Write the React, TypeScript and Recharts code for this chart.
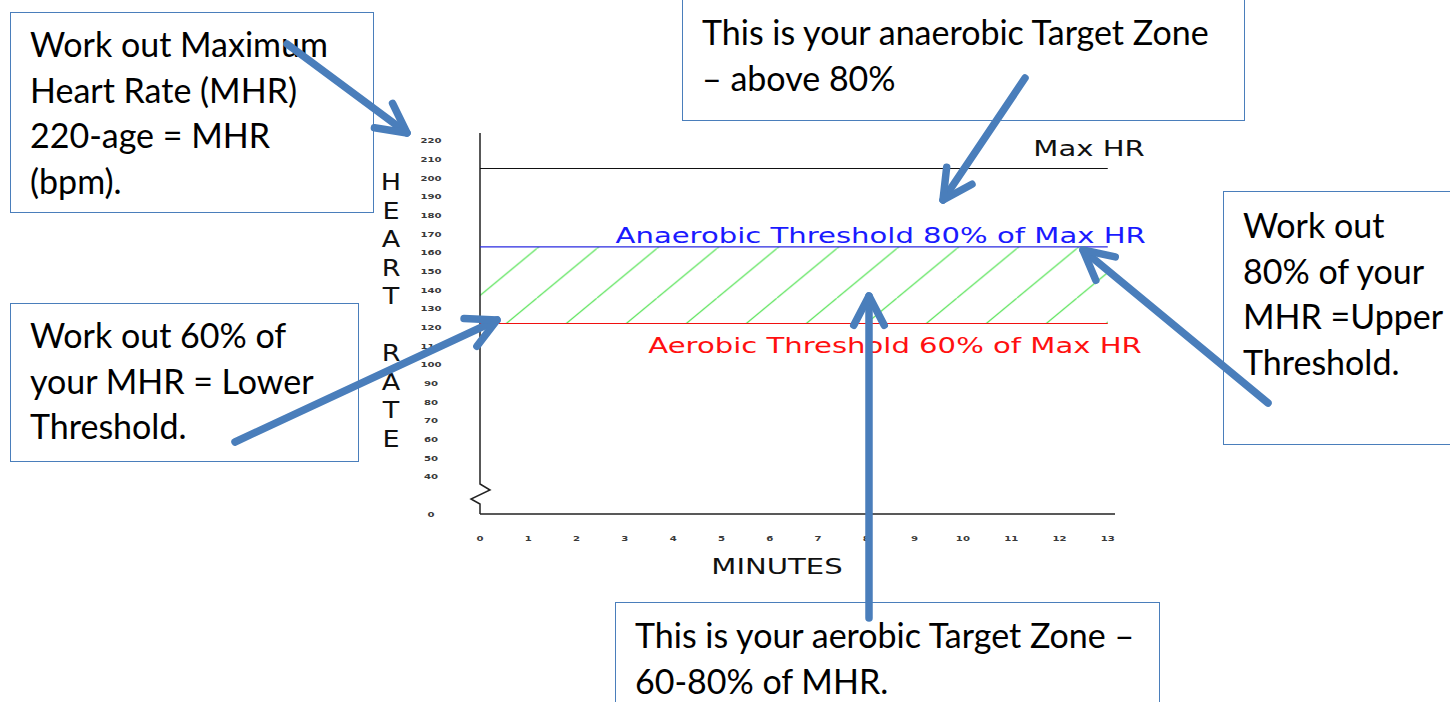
import React from 'react';
import { ComposedChart, Line, XAxis, YAxis, ReferenceArea, ReferenceLine } from 'recharts';

// minutes covered by the threshold lines
const minutes = [0, 13];
const minuteTicks = [0, 1, 2, 3, 4, 5, 6, 7, 8, 9, 10, 11, 12, 13];
// heart-rate axis is broken: the lowest tick (20) is printed as "0"
const hrTicks = [20, 40, 50, 60, 70, 80, 90, 100, 110, 120, 130, 140, 150, 160, 170, 180, 190, 200, 210, 220];
const hrDomain = [20, 224];
const maxHr = 205;
const anaerobicHr = 163;
const aerobicHr = 122;

const lineLabels = {
  max: 'Max HR',
  anaerobic: 'Anaerobic Threshold 80% of Max HR',
  aerobic: 'Aerobic Threshold 60% of Max HR',
};

const notes = [
  { lines: ['Work out Maximum', 'Heart Rate (MHR)', '220-age = MHR', '(bpm).'], left: 10, top: 12, width: 364, height: 201, padTop: 8 },
  { lines: ['This is your anaerobic Target Zone', '\u2013 above 80%'], left: 682, top: -2, width: 563, height: 123, padTop: 10 },
  { lines: ['Work out', '80% of your', 'MHR =Upper', 'Threshold.'], left: 1223, top: 191, width: 240, height: 254, padTop: 10 },
  { lines: ['Work out 60% of', 'your MHR = Lower', 'Threshold.'], left: 10, top: 303, width: 349, height: 159, padTop: 8 },
  { lines: ['This is your aerobic Target Zone \u2013', '60-80% of MHR.'], left: 615, top: 602, width: 545, height: 110, padTop: 9 },
];

const arrows = [
  { from: [287, 44], to: [407, 133] },
  { from: [1025, 78], to: [943, 200] },
  { from: [1268, 403], to: [1083, 250] },
  { from: [235, 442], to: [497, 320] },
  { from: [869, 618], to: [869, 296] },
];

const data = minutes.map((m) => ({ minute: m, max: maxHr, anaerobic: anaerobicHr, aerobic: aerobicHr }));

const font = "'DejaVu Sans', Verdana, sans-serif";
const noteBlue = '#4a7ebb';
const STRETCH = 1.42;

const HrTick = (props: any) => {
  const { x, y, payload } = props;
  const label = payload.value === 20 ? '0' : String(payload.value);
  return (
    <text transform={`translate(${x} ${y + 2.7}) scale(1.3 1)`} textAnchor="middle" fontSize={7.8} fontWeight="bold" fill="#3a3a3a" fontFamily={font}>
      {label}
    </text>
  );
};

const MinuteTick = (props: any) => {
  const { x, y, payload } = props;
  return (
    <text transform={`translate(${x} ${y + 2.7}) scale(1.3 1)`} textAnchor="middle" fontSize={7.8} fontWeight="bold" fill="#3a3a3a" fontFamily={font}>
      {payload.value}
    </text>
  );
};

const endLabel = (text: string, color: string, dx: number, dy: number) => (props: any) => {
  if (props.index !== minutes.length - 1) return null;
  const x = props.viewBox?.x ?? props.x;
  const y = props.viewBox?.y ?? props.y;
  return (
    <text transform={`translate(${x + dx} ${y + dy}) scale(${STRETCH} 1)`} textAnchor="end" fontSize={20.5} fill={color} fontFamily={font}>
      {text}
    </text>
  );
};

const HeartRateLabel = (props: any) => {
  const vb = props.viewBox;
  const letters = 'HEART RATE'.split('');
  return (
    <g>
      {letters.map((ch, i) => (
        <text key={i} transform={`translate(${vb.x - 29} ${vb.y + 57 + i * 28.5}) scale(1.2 1)`} textAnchor="middle" fontSize={22.5} fill="#111" fontFamily={font}>
          {ch}
        </text>
      ))}
    </g>
  );
};

const MinutesLabel = (props: any) => {
  const vb = props.viewBox;
  return (
    <text transform={`translate(${vb.x + 297} ${vb.y + 60}) scale(${STRETCH} 1)`} textAnchor="middle" fontSize={20.5} fill="#111" fontFamily={font}>
      MINUTES
    </text>
  );
};

// y axis line with the "broken axis" zigzag just above the origin
const BrokenAxis = (props: any) => {
  const { x1, y1, y2 } = props;
  const bottom = Math.max(y1, y2);
  const top = Math.min(y1, y2);
  const pts = [
    [x1, top],
    [x1, bottom - 30],
    [x1 + 10, bottom - 24],
    [x1 - 9, bottom - 15],
    [x1, bottom - 10],
    [x1, bottom],
  ];
  return <polyline points={pts.map((p) => p.join(',')).join(' ')} fill="none" stroke="#222" strokeWidth={1.5} />;
};

const Arrow = ({ from, to }: { from: number[]; to: number[] }) => {
  const ang = Math.atan2(from[1] - to[1], from[0] - to[0]);
  const len = 33;
  const spread = 0.48;
  const w1 = [to[0] + len * Math.cos(ang + spread), to[1] + len * Math.sin(ang + spread)];
  const w2 = [to[0] + len * Math.cos(ang - spread), to[1] + len * Math.sin(ang - spread)];
  return (
    <g stroke="#4a7ebb" strokeWidth={7.5} strokeLinecap="round" strokeLinejoin="round" fill="none">
      <line x1={from[0]} y1={from[1]} x2={to[0]} y2={to[1]} />
      <polyline points={`${w1[0]},${w1[1]} ${to[0]},${to[1]} ${w2[0]},${w2[1]}`} />
    </g>
  );
};

export default function App() {
  return (
    <div style={{ position: 'absolute', left: 0, top: 0, width: 1450, height: 702, background: '#fff', overflow: 'hidden' }}>
      <div style={{ position: 'absolute', left: 0, top: 0 }}>
        <ComposedChart width={1450} height={702} data={data} margin={{ top: 133, right: 335, bottom: 158, left: 420 }}>
          <defs>
            <pattern id="zoneHatch" patternUnits="userSpaceOnUse" x={56.8} y={0} width={60} height={49.7}>
              <line x1={-1} y1={50.5} x2={61} y2={-0.8} stroke="#45e045" strokeWidth={1.1} />
            </pattern>
          </defs>
          <XAxis
            type="number"
            dataKey="minute"
            domain={[0, 13.15]}
            ticks={minuteTicks}
            tick={<MinuteTick />}
            tickSize={0}
            tickMargin={24}
            height={30}
            axisLine={{ stroke: '#222', strokeWidth: 1.5 }}
            tickLine={false}
            interval={0}
            allowDataOverflow
            label={{ content: MinutesLabel }}
          />
          <YAxis
            type="number"
            domain={hrDomain}
            ticks={hrTicks}
            tick={<HrTick />}
            tickSize={0}
            tickMargin={49}
            width={60}
            axisLine={false}
            tickLine={false}
            interval={0}
            allowDataOverflow
            label={{ content: HeartRateLabel }}
          />
          <ReferenceArea x1={0} x2={13} y1={aerobicHr} y2={anaerobicHr} fill="url(#zoneHatch)" fillOpacity={1} stroke="none" />
          <ReferenceLine segment={[{ x: 0, y: hrDomain[0] }, { x: 0, y: hrDomain[1] }]} shape={BrokenAxis} />
          <Line dataKey="max" stroke="#111" strokeWidth={1.2} dot={false} isAnimationActive={false} label={endLabel(lineLabels.max, '#111', 37, -12)} />
          <Line dataKey="anaerobic" stroke="#2a2ae0" strokeWidth={1.2} dot={false} isAnimationActive={false} label={endLabel(lineLabels.anaerobic, '#1a1aff', 38, -4)} />
          <Line dataKey="aerobic" stroke="#f01010" strokeWidth={1.2} dot={false} isAnimationActive={false} label={endLabel(lineLabels.aerobic, '#ff1010', 34, 29)} />
        </ComposedChart>
      </div>
      {notes.map((n, i) => (
        <div
          key={i}
          style={{
            position: 'absolute',
            left: n.left,
            top: n.top,
            width: n.width,
            height: n.height,
            boxSizing: 'border-box',
            border: `1.5px solid ${noteBlue}`,
            background: '#fff',
            paddingTop: n.padTop,
            paddingLeft: 19,
            fontFamily: 'Lato, sans-serif',
            fontSize: 34,
            lineHeight: '45.5px',
            color: '#000',
            whiteSpace: 'nowrap',
          }}
        >
          {n.lines.map((l, j) => (
            <div key={j}>{l}</div>
          ))}
        </div>
      ))}
      <svg width={1450} height={702} style={{ position: 'absolute', left: 0, top: 0, pointerEvents: 'none' }}>
        {arrows.map((a, i) => (
          <Arrow key={i} from={a.from} to={a.to} />
        ))}
      </svg>
    </div>
  );
}
